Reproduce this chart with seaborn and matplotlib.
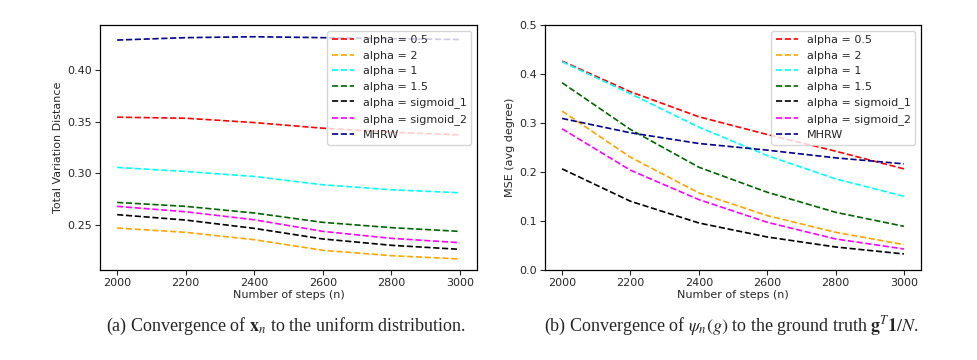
import matplotlib
matplotlib.use("Agg")
import matplotlib.pyplot as plt
import seaborn as sns
import pandas as pd

steps = [2000, 2200, 2400, 2600, 2800, 3000]
labels = ["alpha = 0.5", "alpha = 2", "alpha = 1", "alpha = 1.5",
          "alpha = sigmoid_1", "alpha = sigmoid_2", "MHRW"]
colors = ["red", "orange", "cyan", "darkgreen", "black", "magenta", "darkblue"]

# (a) Total variation distance
tvd_alpha_05 = [0.3542, 0.3532, 0.3490, 0.3436, 0.3397, 0.3372]
tvd_alpha_2 = [0.2474, 0.2433, 0.2362, 0.2260, 0.2208, 0.2176]
tvd_alpha_1 = [0.3058, 0.3019, 0.2971, 0.2891, 0.2843, 0.2814]
tvd_alpha_15 = [0.2721, 0.2683, 0.2619, 0.2529, 0.2478, 0.2442]
tvd_sigmoid_1 = [0.2603, 0.2551, 0.2471, 0.2369, 0.2308, 0.2269]
tvd_sigmoid_2 = [0.2683, 0.2631, 0.2554, 0.2442, 0.2375, 0.2333]
tvd_mhrw = [0.4285, 0.4308, 0.4317, 0.4308, 0.4298, 0.4290]

# (b) MSE (avg degree)
mse_alpha_05 = [0.4264, 0.3638, 0.3127, 0.2766, 0.2425, 0.2064]
mse_alpha_2 = [0.3243, 0.2302, 0.1574, 0.1110, 0.0770, 0.0518]
mse_alpha_1 = [0.4250, 0.3597, 0.2916, 0.2337, 0.1860, 0.1505]
mse_alpha_15 = [0.3822, 0.2868, 0.2098, 0.1587, 0.1178, 0.0892]
mse_sigmoid_1 = [0.2064, 0.1403, 0.0960, 0.0674, 0.0470, 0.0327]
mse_sigmoid_2 = [0.2882, 0.2037, 0.1437, 0.0974, 0.0634, 0.0429]
mse_mhrw = [0.3093, 0.2800, 0.2582, 0.2446, 0.2289, 0.2166]

tvd_series = [tvd_alpha_05, tvd_alpha_2, tvd_alpha_1, tvd_alpha_15,
              tvd_sigmoid_1, tvd_sigmoid_2, tvd_mhrw]
mse_series = [mse_alpha_05, mse_alpha_2, mse_alpha_1, mse_alpha_15,
              mse_sigmoid_1, mse_sigmoid_2, mse_mhrw]

sns.set_theme(style="ticks")
plt.rcParams["font.family"] = ["DejaVu Sans"]
plt.rcParams["mathtext.fontset"] = "stix"

fig = plt.figure(figsize=(9.78, 3.6), dpi=100)
ax1 = fig.add_axes([100 / 978, 90 / 360, 377 / 978, 245 / 360])
ax2 = fig.add_axes([545 / 978, 90 / 360, 376 / 978, 245 / 360])


def draw(ax, series, ylabel):
    for lab, col, vals in zip(labels, colors, series):
        df = pd.DataFrame({"x": steps, "y": vals})
        sns.lineplot(data=df, x="x", y="y", ax=ax, color=col, label=lab,
                     linestyle="--", linewidth=1.2)
    ax.set_xlabel("Number of steps (n)", fontsize=8, labelpad=2)
    ax.set_ylabel(ylabel, fontsize=8, labelpad=3)
    ax.set_xticks(steps)
    ax.tick_params(labelsize=8, length=3.5, width=0.8, pad=2)
    for s in ax.spines.values():
        s.set_linewidth(0.9)
        s.set_color("black")
    leg = ax.legend(loc="upper right", fontsize=8, framealpha=0.8,
                    borderaxespad=0.5, handlelength=2.0, labelspacing=0.5)
    leg.get_frame().set_edgecolor("#cccccc")


draw(ax1, tvd_series, "Total Variation Distance")
ax1.set_xlim(1950, 3050)
ax1.set_ylim(0.207, 0.443)
ax1.set_yticks([0.25, 0.30, 0.35, 0.40])
ax1.set_yticklabels(["0.25", "0.30", "0.35", "0.40"])

draw(ax2, mse_series, "MSE (avg degree)")
ax2.set_xlim(1950, 3050)
ax2.set_ylim(0.0, 0.5)
ax2.set_yticks([0.0, 0.1, 0.2, 0.3, 0.4, 0.5])

cap_font = dict(family=["Liberation Serif", "DejaVu Serif"], fontsize=13,
                ha="center", va="center")
fig.text(286 / 978, 1 - 326 / 360,
         r"(a) Convergence of $\mathbf{x}_n$ to the uniform distribution.",
         **cap_font)
fig.text(731 / 978, 1 - 326 / 360,
         r"(b) Convergence of $\psi_n(g)$ to the ground truth $\mathbf{g}^T\mathbf{1}/N$.",
         **cap_font)

fig.savefig("out.png", dpi=100)
